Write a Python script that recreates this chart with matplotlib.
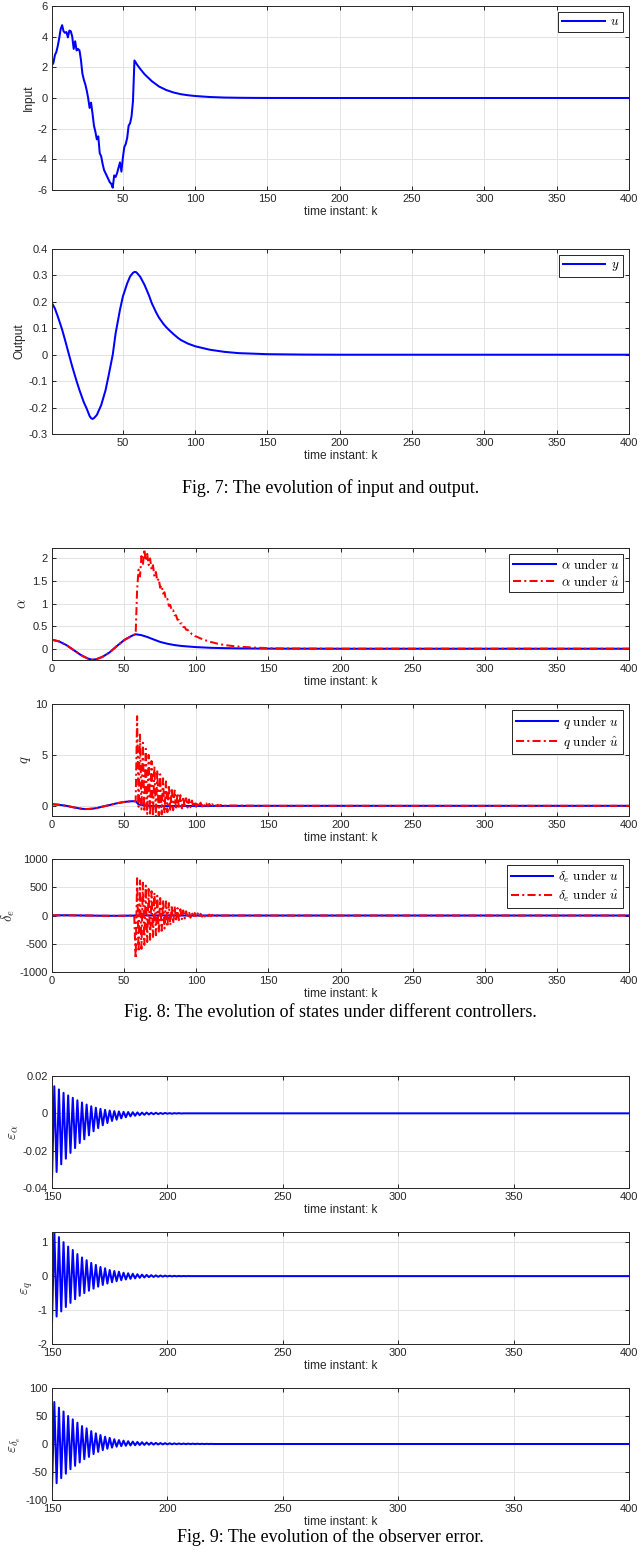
import matplotlib
matplotlib.use("Agg")
import matplotlib.pyplot as plt
from matplotlib.ticker import FuncFormatter

plt.rcParams['font.family'] = ['Liberation Sans', 'DejaVu Sans']
plt.rcParams['mathtext.fontset'] = 'cm'
plt.rcParams['axes.unicode_minus'] = False

# ---------------- Fig. 7 data ----------------
u_k = list(range(1, 59)) + [60, 62, 65, 70, 75, 80, 85, 90, 95, 100, 110, 120, 130, 140, 150, 175, 200, 400]
u_val = [2.14, 2.3, 2.8, 3.0, 3.4, 3.9, 4.5, 4.75, 4.35, 4.25,
         4.3, 3.95, 4.4, 4.35, 4.0, 3.2, 3.7, 3.1, 3.2, 3.1,
         2.5, 1.6, 1.2, 0.9, 0.5, 0.0, -0.65, -0.3, -1.0, -1.8,
         -2.2, -2.7, -2.5, -3.6, -3.8, -4.3, -4.7, -4.9, -5.1, -5.3,
         -5.5, -5.6, -5.85, -5.05, -5.15, -4.9, -4.55, -4.2, -4.8, -3.9,
         -3.2, -3.0, -2.6, -1.8, -1.65, -1.2, -0.2, 2.45,
         2.15, 1.9, 1.55, 1.1, 0.75, 0.52, 0.36, 0.25, 0.18, 0.13,
         0.065, 0.03, 0.015, 0.007, 0.003, 0.001, 0.0, 0.0]

y_k = [1, 3, 5, 8, 10, 13, 15, 18, 20, 23, 25, 27, 28, 29, 30, 32, 35, 38, 40, 43,
       45, 48, 50, 53, 55, 57, 58, 59, 60, 62, 65, 68, 70, 73, 75, 78, 80, 83, 85, 88,
       90, 95, 100, 110, 120, 130, 140, 150, 175, 200, 400]
y_val = [0.195, 0.175, 0.145, 0.095, 0.056, -0.005, -0.045, -0.1, -0.134, -0.18,
         -0.204, -0.232, -0.24, -0.243, -0.24, -0.228, -0.191, -0.135, -0.083, 0.0,
         0.081, 0.17, 0.22, 0.27, 0.296, 0.31, 0.313, 0.313, 0.308, 0.295,
         0.264, 0.225, 0.195, 0.16, 0.14, 0.117, 0.104, 0.088, 0.078, 0.064,
         0.056, 0.042, 0.032, 0.019, 0.011, 0.006, 0.004, 0.002, 0.0005, 0.0, 0.0]

# ---------------- Fig. 8 data ----------------
# common part before the controller switch
pre_k = [0, 5, 10, 15, 20, 23, 25, 28, 31, 35, 40, 45, 50, 55, 57]
alpha_pre = [0.2, 0.16, 0.08, -0.03, -0.14, -0.19, -0.22, -0.245, -0.23, -0.18, -0.08, 0.06, 0.19, 0.28, 0.31]
q_pre = [0.16, 0.1, 0.0, -0.15, -0.28, -0.32, -0.31, -0.28, -0.22, -0.08, 0.08, 0.25, 0.38, 0.45, 0.45]
de_pre = [2, 4, 4, 3, 1, 0, 0, -1, -3, -4, -5, -5, -4, -2, -1]

# under u
alpha_u_k = [58, 62, 66, 70, 75, 80, 85, 90, 100, 110, 120, 130, 150, 200, 400]
alpha_u = [0.32, 0.3, 0.26, 0.21, 0.15, 0.11, 0.08, 0.06, 0.035, 0.02, 0.012, 0.007, 0.002, 0.0, 0.0]
q_u_k = [58, 60, 63, 70, 80, 100, 150, 400]
q_u = [0.45, 0.15, 0.05, -0.02, -0.03, -0.01, 0.0, 0.0]
de_u_k = [58, 70, 90, 120, 150, 400]
de_u = [2, 1.5, 0.5, 0.1, 0.0, 0.0]

# under u hat, from k = 58
alpha_hat = [0.32, 1.3, 1.75, 1.6, 2.05, 1.85, 2.2, 1.95, 2.1, 1.85,
             2.0, 1.75, 1.85, 1.6, 1.7, 1.5, 1.55, 1.35, 1.4, 1.22,
             1.25, 1.08, 1.1, 0.95, 0.97, 0.84, 0.85, 0.74, 0.74, 0.64,
             0.64, 0.56, 0.56, 0.48, 0.48, 0.42, 0.42, 0.37, 0.36, 0.32,
             0.31, 0.28, 0.27]
alpha_hat_tail_k = [105, 110, 115, 120, 125, 130, 140, 150, 160, 200, 400]
alpha_hat_tail = [0.2, 0.15, 0.11, 0.08, 0.06, 0.045, 0.025, 0.012, 0.005, 0.0, 0.0]

q_hat = [0.45, 8.8, -0.1, 7.0, -0.35, 6.2, -0.6, 5.6, -0.8, 5.0,
         -0.95, 4.4, -1.05, 3.9, -1.05, 3.5, -0.95, 3.1, -0.85, 2.7,
         -0.72, 2.4, -0.62, 2.05, -0.52, 1.75, -0.43, 1.5, -0.36, 1.25,
         -0.3, 1.05, -0.25, 0.9, -0.2, 0.75, -0.17, 0.62, -0.14, 0.52,
         -0.12, 0.44, -0.1, 0.37, -0.08, 0.31, -0.07, 0.27, -0.06, 0.23,
         -0.05, 0.19, -0.04, 0.16, -0.03, 0.13, -0.02, 0.1, -0.02, 0.08,
         -0.01, 0.06, 0.0, 0.03]
q_hat_tail_k = [150, 400]
q_hat_tail = [0.0, 0.0]

de_hat = [-760, 660, -640, 620, -590, 580, -520, 530, -470, 470,
          -430, 430, -380, 400, -350, 350, -300, 310, -270, 280,
          -230, 250, -200, 220, -170, 180, -140, 160, -108, 130,
          -82, 110, -64, 90, -52, 75, -44, 62, -38, 52,
          -33, 44, -29, 38, -24, 30, -20, 25, -16, 20,
          -13, 16, -10, 12, -8, 9, -6, 6, -4, 4,
          -3, 3, -2, 2, -1, 1]
de_hat_tail_k = [130, 400]
de_hat_tail = [0.0, 0.0]

# ---------------- Fig. 9 data (from k = 150) ----------------
eps_alpha = [-0.0355, 0.0145, -0.0314, 0.0128, -0.0273, 0.011, -0.0243, 0.0096, -0.0212, 0.0083,
             -0.0186, 0.007, -0.0159, 0.0058, -0.0139, 0.0047, -0.0118, 0.0038, -0.0096, 0.003,
             -0.0079, 0.0024, -0.0064, 0.0019, -0.0052, 0.0015, -0.0041, 0.0012, -0.0034, 0.001,
             -0.0027, 0.0008, -0.0021, 0.0007, -0.0016, 0.0006, -0.0013, 0.0005, -0.001, 0.0004,
             -0.0008, 0.0004, -0.0006, 0.0003, -0.0005, 0.0003, -0.0004, 0.0002, -0.0003, 0.0002,
             -0.0002, 0.0001, -0.0002, 0.0001, -0.0001, 0.0001, -0.0001, 0.0]
eps_q = [-1.37, 1.35, -1.19, 1.15, -1.04, 1.0, -0.91, 0.87, -0.79, 0.77,
         -0.68, 0.65, -0.58, 0.55, -0.5, 0.47, -0.43, 0.39, -0.37, 0.33,
         -0.31, 0.27, -0.26, 0.23, -0.22, 0.18, -0.18, 0.15, -0.15, 0.13,
         -0.12, 0.1, -0.1, 0.085, -0.08, 0.07, -0.065, 0.055, -0.05, 0.045,
         -0.04, 0.035, -0.03, 0.028, -0.025, 0.022, -0.02, 0.018, -0.015, 0.014,
         -0.01, 0.01, -0.008, 0.007, -0.006, 0.005, -0.004, 0.003, -0.002, 0.002, 0.0]
eps_de = [-80, 75, -70, 65, -61, 58, -53, 50, -45, 44,
          -39, 38, -33, 32, -27, 28, -23, 23, -18, 19,
          -14, 16, -11, 13, -8.5, 11, -6.5, 8.5, -4.8, 7,
          -3.8, 6, -3.2, 5, -2.6, 4.3, -2.2, 3.7, -1.9, 3.2,
          -1.6, 2.8, -1.3, 2.4, -1.1, 2.0, -0.9, 1.7, -0.7, 1.5,
          -0.6, 1.3, -0.5, 1.1, -0.4, 1.0, -0.3, 0.8, -0.25, 0.7,
          -0.2, 0.6, -0.15, 0.5, -0.1, 0.4, -0.1, 0.3, -0.05, 0.2, 0.0]

BLUE = '#0000ff'
RED = '#ff0000'
DASHDOT = (0, (4, 1.6, 1, 1.6))
DARK = '#262626'
LW = 1.45

fig = plt.figure(figsize=(6.4, 15.52), dpi=100)
W, H = 640.0, 1552.0


def make_ax(top, bottom):
    return fig.add_axes([52 / W, 1 - bottom / H, 577 / W, (bottom - top) / H])


def style(ax, xlim, xticks, ylim, yticks, ylabel, ysize=8.6):
    ax.set_xlim(xlim)
    ax.set_ylim(ylim)
    ax.set_xticks(xticks)
    ax.set_yticks(yticks)
    fmt = FuncFormatter(lambda v, p: '%g' % round(v, 6))
    ax.xaxis.set_major_formatter(fmt)
    ax.yaxis.set_major_formatter(fmt)
    ax.tick_params(direction='in', top=True, right=True, length=3, width=0.7,
                   labelsize=8, colors=DARK, pad=3)
    for s in ax.spines.values():
        s.set_color(DARK)
        s.set_linewidth(0.7)
    ax.grid(True, color='#e3e3e3', linewidth=0.7)
    ax.set_axisbelow(True)
    ax.set_xlabel('time instant: k', fontsize=8.6, color=DARK, labelpad=1)
    ax.set_ylabel(ylabel, fontsize=ysize, color=DARK, labelpad=2)


def legend(ax):
    leg = ax.legend(loc='upper right', fontsize=9.5, fancybox=False, framealpha=1,
                    edgecolor=DARK, borderpad=0.3, handlelength=3.2, labelspacing=0.2,
                    borderaxespad=0.45, handletextpad=0.4)
    leg.get_frame().set_linewidth(0.7)


# Fig. 7
ax = make_ax(6, 190)
ax.plot(u_k, u_val, color=BLUE, lw=LW, label='$u$')
style(ax, (1, 400), range(50, 401, 50), (-6, 6), range(-6, 7, 2), 'Input')
legend(ax)

ax = make_ax(249, 434)
ax.plot(y_k, y_val, color=BLUE, lw=LW, label='$y$')
style(ax, (1, 400), range(50, 401, 50), (-0.3, 0.4),
      [-0.3, -0.2, -0.1, 0, 0.1, 0.2, 0.3, 0.4], 'Output')
legend(ax)

fig.text(0.516, 1 - 488 / H, 'Fig. 7: The evolution of input and output.',
         family='Liberation Serif', fontsize=13, ha='center', va='center')

# Fig. 8
k58 = list(range(58, 58 + len(alpha_hat)))
ax = make_ax(548, 660)
ax.plot(pre_k + alpha_u_k, alpha_pre + alpha_u, color=BLUE, lw=LW,
        label=r'$\alpha\ \mathrm{under}\ u$')
ax.plot(pre_k + k58 + alpha_hat_tail_k, alpha_pre + alpha_hat + alpha_hat_tail, color=RED,
        lw=LW, linestyle=DASHDOT, label=r'$\alpha\ \mathrm{under}\ \hat{u}$')
style(ax, (0, 400), range(0, 401, 50), (-0.25, 2.23), [0, 0.5, 1, 1.5, 2],
      r'$\alpha$', ysize=10.5)
legend(ax)

kq = list(range(58, 58 + len(q_hat)))
ax = make_ax(704, 816)
ax.plot(pre_k + q_u_k, q_pre + q_u, color=BLUE, lw=LW, label=r'$q\ \mathrm{under}\ u$')
ax.plot(pre_k + kq + q_hat_tail_k, q_pre + q_hat + q_hat_tail, color=RED, lw=LW,
        linestyle=DASHDOT, label=r'$q\ \mathrm{under}\ \hat{u}$')
style(ax, (0, 400), range(0, 401, 50), (-1, 10), [0, 5, 10], r'$q$', ysize=10.5)
legend(ax)

kd = list(range(58, 58 + len(de_hat)))
ax = make_ax(859, 972)
ax.plot(pre_k + de_u_k, de_pre + de_u, color=BLUE, lw=LW,
        label=r'$\delta_e\ \mathrm{under}\ u$')
ax.plot(pre_k + kd + de_hat_tail_k, de_pre + de_hat + de_hat_tail, color=RED, lw=LW,
        linestyle=DASHDOT, label=r'$\delta_e\ \mathrm{under}\ \hat{u}$')
style(ax, (0, 400), range(0, 401, 50), (-1000, 1000), range(-1000, 1001, 500),
      r'$\delta_e$', ysize=10.5)
legend(ax)

fig.text(0.516, 1 - 1012 / H, 'Fig. 8: The evolution of states under different controllers.',
         family='Liberation Serif', fontsize=13, ha='center', va='center')

# Fig. 9
ax = make_ax(1076, 1188)
ka = list(range(150, 150 + len(eps_alpha))) + [400]
ax.plot(ka, eps_alpha + [0.0], color=BLUE, lw=LW)
style(ax, (150, 400), range(150, 401, 50), (-0.04, 0.02), [-0.04, -0.02, 0, 0.02],
      r'$\varepsilon_\alpha$', ysize=11)

ax = make_ax(1232, 1344)
kq9 = list(range(150, 150 + len(eps_q))) + [400]
ax.plot(kq9, eps_q + [0.0], color=BLUE, lw=LW)
style(ax, (150, 400), range(150, 401, 50), (-2, 1.3), [-2, -1, 0, 1],
      r'$\varepsilon_q$', ysize=11)

ax = make_ax(1388, 1500)
kd9 = list(range(150, 150 + len(eps_de))) + [400]
ax.plot(kd9, eps_de + [0.0], color=BLUE, lw=LW)
style(ax, (150, 400), range(150, 401, 50), (-100, 100), range(-100, 101, 50),
      r'$\varepsilon_{\delta_e}$', ysize=11)

fig.text(0.516, 1 - 1537 / H, 'Fig. 9: The evolution of the observer error.',
         family='Liberation Serif', fontsize=13, ha='center', va='center')

fig.savefig('out.png', dpi=100)
